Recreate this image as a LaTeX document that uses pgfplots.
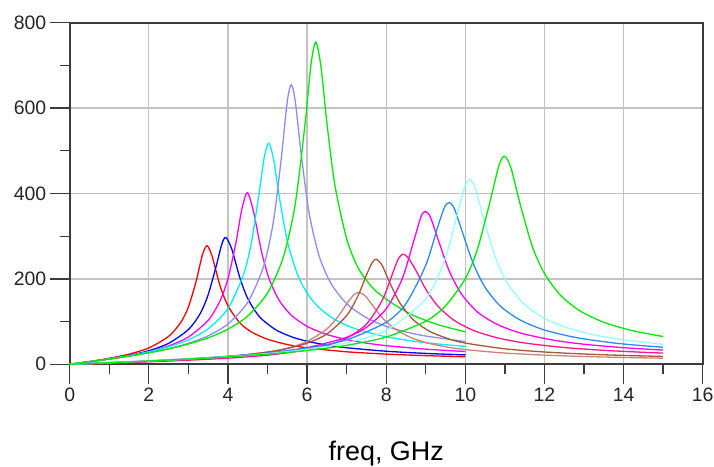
\documentclass[border=0pt]{standalone}
\usepackage{fontspec}
\setmainfont{Liberation Sans}
\usepackage{pgfplots}
\pgfplotsset{compat=1.18}

\definecolor{gridgray}{RGB}{195,195,195}
\definecolor{axisgray}{RGB}{60,60,60}
\definecolor{cRed}{RGB}{255,0,0}
\definecolor{cBlue}{RGB}{0,0,255}
\definecolor{cMag}{RGB}{255,0,255}
\definecolor{cCyan}{RGB}{0,240,240}
\definecolor{cLav}{RGB}{140,140,245}
\definecolor{cGreen}{RGB}{0,235,0}
\definecolor{cRosy}{RGB}{205,130,120}
\definecolor{cBrown}{RGB}{165,88,55}
\definecolor{cPink}{RGB}{255,20,150}
\definecolor{cDodger}{RGB}{40,140,240}
\definecolor{cLCyan}{RGB}{150,255,255}

\begin{document}
\begin{tikzpicture}
\path[use as bounding box] (-69.7bp,-102.7bp) rectangle (644.3bp,364.3bp);
\begin{axis}[
    at={(0,0)}, anchor=south west,
    scale only axis,
    width=633bp, height=341.6bp,
    xmin=0, xmax=16, ymin=0, ymax=800,
    xtick={0,2,...,16}, ytick={0,200,...,800},
    minor xtick={1,3,...,15}, minor ytick={100,300,500,700},
    grid=major,
    major grid style={color=gridgray, line width=1.3bp},
    tick align=outside, tick pos=left,
    major tick length=20bp, minor tick length=10bp,
    every tick/.style={color=axisgray, line width=1.3bp},
    axis line style={color=axisgray, line width=1.8bp},
    ticklabel style={font=\fontsize{19.5}{23}\selectfont, color=black!85},
    /pgf/number format/assume math mode=true,
    /pgf/number format/1000 sep={},
    xlabel={freq, GHz},
    xlabel style={font=\fontsize{27}{32}\selectfont, at={(axis description cs:0.5,0)}, anchor=base, yshift=-95.7bp},
    every axis plot/.append style={line width=1.3bp, no markers, smooth, tension=0.45, line join=round},
]
% lower band resonances (0-10 GHz)
\addplot[cRed] coordinates {(0,0)(0.5,6.6)(1,14.1)(1.5,23.8)(2,38.3)(2.5,65.3)(2.8,97.1)(3.0,134)(3.2,196)(3.35,255)(3.47,278)(3.6,253)(3.8,184)(4.0,137)(4.3,97)(4.6,75.5)(5,58.7)(5.5,46.3)(6,38.6)(7,29.3)(8,23.9)(9,20.3)(10,17.7)};
\addplot[cBlue] coordinates {(0,0)(0.5,6.1)(1,12.7)(1.5,20.9)(2,31.9)(2.5,49.1)(3,81.4)(3.3,119)(3.5,163)(3.7,229)(3.85,283)(3.95,297)(4.1,269)(4.3,203)(4.5,154)(4.8,111)(5.2,81.4)(5.6,64.6)(6,53.9)(6.5,45)(7,38.7)(8,30.6)(9,25.5)(10,22)};
\addplot[cMag] coordinates {(0,0)(0.5,6.0)(1,12.6)(1.5,20.1)(2,29.7)(2.5,43)(3,63.9)(3.5,103)(3.8,148.5)(4.0,200.6)(4.2,284)(4.35,363)(4.49,402)(4.65,356)(4.85,263)(5.05,198)(5.3,149)(5.6,115)(6,88.9)(6.5,69.8)(7,58)(7.5,49.6)(8,43.7)(9,35.5)(10,30)};
\addplot[cCyan] coordinates {(0,0)(0.5,6.3)(1,12.9)(1.5,20.4)(2,29.4)(2.5,41.1)(3,57.4)(3.5,83.1)(4,130.6)(4.4,212)(4.6,289)(4.8,409)(4.92,486)(5.03,518)(5.15,482)(5.3,391)(5.5,289)(5.75,212)(6,166.7)(6.3,132.8)(6.7,105)(7.2,84)(8,64.4)(9,50.5)(10,41.9)};
\addplot[cLav] coordinates {(0,0)(0.5,5.9)(1,12.1)(1.5,18.9)(2,26.8)(2.5,36.5)(3,49.1)(3.5,66.8)(4,94.5)(4.5,145)(4.9,229)(5.15,335)(5.35,484)(5.5,616)(5.6,655)(5.7,617)(5.85,493)(6.05,355)(6.3,255)(6.6,190)(7,142)(7.5,109)(8,89)(8.5,75.8)(9,66.2)(10,53.3)};
\addplot[cGreen] coordinates {(0,0)(0.5,6.1)(1,12.5)(1.5,19.3)(2,27.1)(2.5,36.2)(3,47.4)(3.5,62)(4,82.3)(4.5,113)(5,167)(5.4,251)(5.7,375)(5.95,564)(6.1,703)(6.22,755)(6.35,698)(6.5,566)(6.7,421)(7,294)(7.3,224)(7.7,175)(8.2,140)(8.7,114)(9.3,93)(10,76)};
% upper band resonances (0-15 GHz)
\addplot[cRosy] coordinates {(0,0)(1,3.1)(2,6.6)(3,11)(4,17.4)(5,28.4)(5.5,37.8)(6,53.4)(6.5,82.8)(6.8,114)(7.05,148)(7.2,164)(7.31,168)(7.45,162)(7.65,139)(7.9,109)(8.2,84.2)(8.6,63.5)(9,51)(9.5,41)(10,34.4)(11,26.3)(12,21.5)(13,18.3)(14,16)(15,14.3)};
\addplot[cBrown] coordinates {(0,0)(1,3.4)(2,7.2)(3,11.9)(4,18.4)(5,28.7)(5.5,37)(6,49.5)(6.5,70.9)(7,114)(7.3,163)(7.5,209)(7.65,239)(7.75,246)(7.9,231)(8.1,189)(8.35,143)(8.7,103)(9.1,77)(9.6,58.9)(10,49.7)(11,36.2)(12,28.8)(13,24.1)(14,20.8)(15,18.4)};
\addplot[cPink] coordinates {(0,0)(1,2.8)(2,5.9)(3,9.6)(4,14.4)(5,21.4)(6,33.6)(6.5,44.2)(7,61.3)(7.5,94.1)(7.9,150)(8.15,210)(8.3,246)(8.42,258)(8.55,250)(8.75,220)(9,176)(9.3,137)(9.7,104)(10.2,79.5)(10.8,62.2)(11.5,49.9)(12.5,39.3)(13.5,32.7)(14.5,28.1)(15,26.3)};
\addplot[cMag] coordinates {(0,0)(1,3.7)(2,7.6)(3,12.2)(4,18)(5,26.2)(6,39)(7,63.3)(7.5,86.7)(8,130)(8.4,199)(8.7,290)(8.88,346)(8.99,358)(9.12,344)(9.35,282)(9.6,217)(9.9,165)(10.3,123)(10.8,93.7)(11.4,73.1)(12.2,57)(13,47)(14,38.9)(15,33.4)};
\addplot[cDodger] coordinates {(0,0)(1,3.9)(2,8.1)(3,12.9)(4,18.7)(5,26.5)(6,38)(7,57.4)(8,98.4)(8.5,142)(9,232)(9.3,321)(9.47,367)(9.59,379)(9.72,365)(9.95,303)(10.2,236)(10.5,180)(10.9,135)(11.4,103)(12,80.3)(12.8,62.6)(13.7,50.6)(14.3,45)(15,40)};
\addplot[cLCyan] coordinates {(0,0)(1,3.8)(2,7.9)(3,12.4)(4,17.9)(5,25)(6,34.9)(7,50.5)(8,79.5)(9,153)(9.5,250)(9.8,353)(9.98,415)(10.11,432)(10.25,413)(10.5,328)(10.8,240)(11.1,185)(11.5,140)(12,107.5)(12.6,84.5)(13.3,68)(14.1,56)(15,47)};
\addplot[cGreen] coordinates {(0,0)(1,3.8)(2,7.8)(3,12.3)(4,17.5)(5,23.9)(6,32.3)(7,44.4)(8,63.9)(9,101)(9.5,137)(10,200.6)(10.3,268)(10.6,372)(10.85,466)(10.99,487)(11.15,461)(11.4,370)(11.7,274)(12,213)(12.4,162)(12.9,125)(13.5,98.4)(14.2,79.3)(15,65)};
\end{axis}
\end{tikzpicture}
\end{document}
